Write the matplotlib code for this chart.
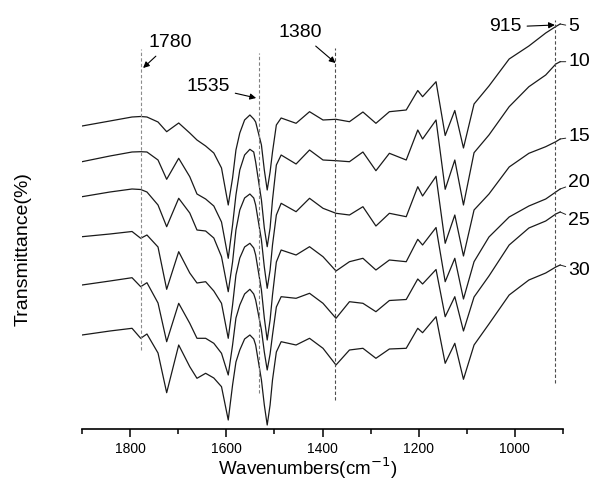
import matplotlib
matplotlib.use("Agg")
import matplotlib.pyplot as plt

plt.rcParams['font.family'] = ['Liberation Sans', 'DejaVu Sans']

# wavenumber grid (cm-1) shared by all spectra
wn = [1900, 1842, 1796, 1778, 1765, 1742, 1724, 1699, 1676, 1661, 1643, 1626,
      1610, 1596, 1587, 1580, 1572, 1562, 1551, 1543, 1539, 1527, 1521, 1515,
      1509, 1504, 1496, 1486, 1455, 1427,
      1399, 1372, 1344, 1316, 1289, 1261, 1226, 1202, 1192, 1164, 1145, 1125,
      1107, 1085, 1054, 1012, 971, 936, 915, 906]

# stacked transmittance (arbitrary offset units)
t5 = [324, 329, 333, 333.5, 333, 328, 318.3, 327, 317, 310, 304, 297,
      282, 245, 272, 300, 317, 330, 335, 331, 328, 305, 280, 260,
      278, 298, 325, 332, 326.7, 338.3,
      330, 330.7, 328.3, 338, 326.7, 338.3, 340, 359.5, 353.3, 368.3, 314.5, 339.5,
      302, 346, 364, 391, 404, 417, 423.5, 426]
t10 = [288.3, 294, 298, 298.3, 298, 290, 270.7, 291.7, 273.3, 256, 251, 244,
       228, 191.7, 225, 255, 280, 295, 300.7, 298, 288, 250, 222, 203.3,
       222, 250, 285, 295, 286, 300,
       290, 289.3, 288.3, 298, 279.3, 296.7, 290, 320, 311, 330, 260.7, 290,
       245, 297.3, 315, 343.3, 363.3, 375, 386, 388.3]
t15 = [253.3, 258, 261, 260.5, 258, 245, 223.3, 251.7, 237, 220, 219, 212,
       193.3, 158.3, 188, 220, 240, 252, 256, 252, 245, 210, 183, 161.7,
       180, 205, 235, 246.7, 238.3, 251.7,
       241.7, 236.7, 235, 243.3, 224, 236.7, 233.3, 263.3, 254, 273.7, 206.7, 235,
       194, 240, 256, 283, 296.7, 303.3, 308.3, 311]
t20 = [213.3, 216, 218.5, 211.7, 215, 203, 160.7, 198.3, 177, 167, 168.3, 159,
       146.7, 111.7, 145, 175, 192, 203, 206.7, 202, 195, 160, 132, 110,
       130, 155, 188, 200, 195, 203.3,
       193.3, 179, 188.3, 191.7, 180, 190, 188.3, 210.7, 205, 222.5, 168.3, 191.7,
       151, 188.3, 213, 233, 244, 251, 258, 261]
t25 = [165, 169, 172.3, 163.3, 167.3, 147, 108.3, 146.7, 126.7, 111.7, 111.7, 106.7,
       96.7, 75, 105, 132, 145, 156, 160.7, 156, 150, 120, 98, 80,
       96, 115, 143, 153.3, 151.7, 156.7,
       146.7, 131.7, 148.3, 146.7, 138.3, 149.5, 150.5, 171, 166, 180.5, 133.3, 153.3,
       119, 153, 174, 205, 222, 229, 236, 238]
t30 = [115, 119, 121.7, 111.7, 116, 97, 57.3, 105, 83.3, 71.7, 76.7, 72,
       63.3, 30, 65, 88, 100, 111, 115, 111, 105, 70, 45, 25,
       45, 70, 98, 108.3, 105, 111.7,
       101.7, 85, 100, 101.7, 91.7, 101, 101.7, 121.7, 117.3, 133.3, 86.7, 106.7,
       70.7, 105, 126, 155, 170, 177, 183, 185]

series = [t5, t10, t15, t20, t25, t30]
series_labels = ["5", "10", "15", "20", "25", "30"]
label_dy = [-2, 0, 2, 5, -6, -4]   # points, offset of label from curve end

# marked bands
band_text = ["1780", "1535", "1380", "915"]
band_pos = [1777, 1533, 1375, 916]
band_top = [401, 397, 402, 430]
band_bottom = [100, 57, 50, 67]
band_color = ["0.55", "0.5", "0.3", "0.3"]
text_pos = [(1717, 407), (1638, 363), (1446, 417), (1020, 423)]
arrow_head = [(1773, 382), (1538, 352), (1373, 387), (917, 425)]

fig = plt.figure(figsize=(5.9, 4.83), dpi=100)
ax = fig.add_axes([0.139, 0.1118, 0.8153, 0.8675])

for t, lab, dy in zip(series, series_labels, label_dy):
    ax.plot(wn, t, color="#1a1a1a", lw=0.9)
    ax.annotate(lab, xy=(wn[-1], t[-1]), xytext=(6, dy), textcoords="offset points",
                ha="left", va="center", fontsize=14, annotation_clip=False,
                arrowprops=dict(arrowstyle="-", lw=0.7, color="#222222",
                                shrinkA=0, shrinkB=0))

for x, top, bot, c in zip(band_pos, band_top, band_bottom, band_color):
    ax.vlines(x, bot, top, colors=c, linestyles=(0, (3, 2)), lw=0.8)

for txt, tp, hd in zip(band_text, text_pos, arrow_head):
    ax.annotate(txt, xy=hd, xytext=tp, ha="center", va="center", fontsize=14,
                annotation_clip=False,
                arrowprops=dict(arrowstyle="-|>", lw=0.8, color="black",
                                mutation_scale=9, shrinkA=2, shrinkB=0))

ax.set_xlim(1900, 900)
ax.set_ylim(21, 440)
ax.set_xticks([1800, 1600, 1400, 1200, 1000])
ax.set_xticks([1900, 1700, 1500, 1300, 1100, 900], minor=True)
ax.set_yticks([])
for s in ["top", "right", "left"]:
    ax.spines[s].set_visible(False)
ax.spines["bottom"].set_linewidth(1.2)
ax.tick_params(axis="x", which="major", length=6, width=1.1, labelsize=10, pad=3)
ax.tick_params(axis="x", which="minor", length=3.5, width=1.1)

ax.set_xlabel("Wavenumbers(cm$^{-1}$)", fontsize=13.5, va="center")
ax.xaxis.set_label_coords(0.47, -0.093)
ax.set_ylabel("Transmittance(%)", fontsize=14)
ax.yaxis.set_label_coords(-0.105, 0.43)

fig.savefig("out.png", dpi=100)
